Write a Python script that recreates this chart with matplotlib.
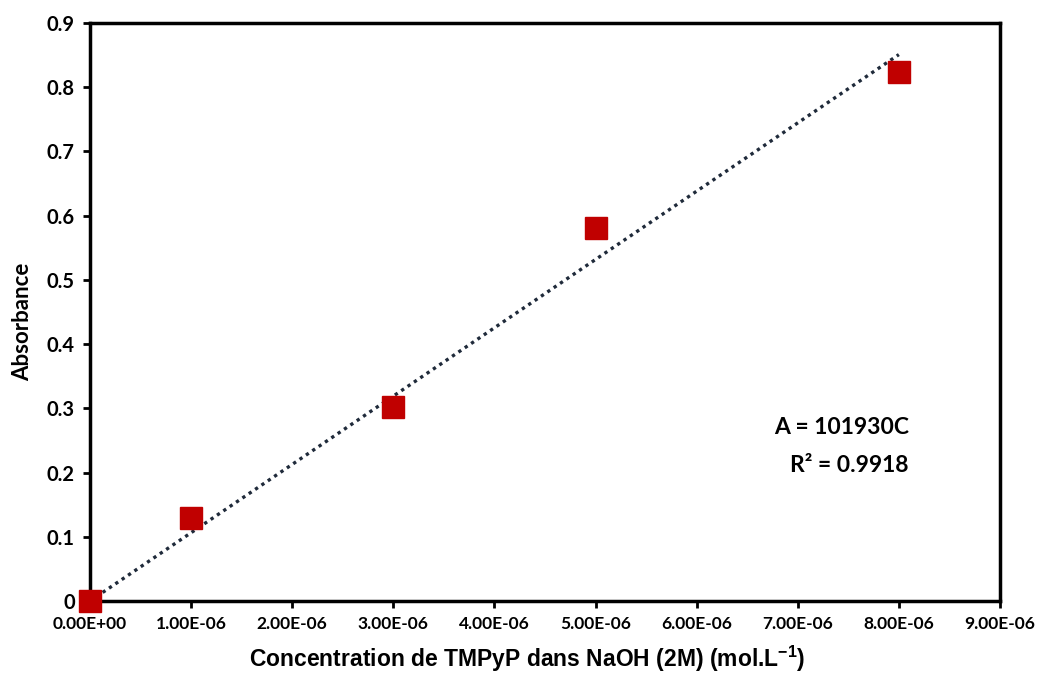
import numpy as np
import matplotlib
matplotlib.use('Agg')
import matplotlib.pyplot as plt
from matplotlib.ticker import FuncFormatter

# Donnees
concentration = [0.0, 1e-6, 3e-6, 5e-6, 8e-6]
absorbance = [0.0, 0.13, 0.302, 0.58, 0.824]
x_ticks = np.arange(0, 9.01e-6, 1e-6)
y_ticks = np.arange(0, 0.91, 0.1)
equation = "A = 101930C"
r2_text = "R² = 0.9918"

plt.rcParams['mathtext.fontset'] = 'custom'
plt.rcParams['mathtext.rm'] = 'Liberation Sans:bold'
plt.rcParams['mathtext.bf'] = 'Liberation Sans:bold'

fig = plt.figure(figsize=(10.4, 6.75), dpi=100)
ax = fig.add_axes([0.0865, 0.1096, 0.875, 0.8564])

# Droite de regression passant par l'origine
x = np.array(concentration)
y = np.array(absorbance)
slope = np.sum(x * y) / np.sum(x * x)
ax.plot([0, x.max()], [0, slope * x.max()], linestyle=(0, (1, 1.3)),
        color='#1f2a3a', linewidth=2.4, zorder=2)

ax.plot(concentration, absorbance, 's', color='#C00000', markersize=15.5,
        markeredgecolor='#C00000', zorder=3, clip_on=False)

ax.set_xlim(0, 9e-6)
ax.set_ylim(0, 0.9)
ax.set_xticks(x_ticks)
ax.set_yticks(y_ticks)
ax.xaxis.set_major_formatter(FuncFormatter(
    lambda v, p: "%.2E" % v if v != 0 else "0.00E+00"))
ax.yaxis.set_major_formatter(FuncFormatter(
    lambda v, p: "0" if abs(v) < 1e-9 else ("%.1f" % v)))

for s in ax.spines.values():
    s.set_linewidth(2.5)
    s.set_color('black')

ax.tick_params(axis='both', direction='out', length=5, width=2, pad=6)
for lab in ax.get_xticklabels():
    lab.set_fontfamily('Lato')
    lab.set_fontweight('bold')
    lab.set_fontsize(12.5)
for lab in ax.get_yticklabels():
    lab.set_fontfamily('Lato')
    lab.set_fontweight('bold')
    lab.set_fontsize(14.5)

ax.set_xlabel("Concentration de TMPyP dans NaOH (2M) (mol.L$^{\\mathbf{-1}}$)",
              fontfamily='Liberation Sans', fontweight='bold', fontsize=16.5)
ax.set_ylabel("Absorbance", fontfamily='Lato', fontweight='bold', fontsize=16)
ax.xaxis.set_label_coords(0.48, -0.074)
ax.yaxis.set_label_coords(-0.062, 0.483)

ax.text(0.9, 0.3, equation, transform=ax.transAxes, ha='right', va='center',
        fontfamily='Lato', fontweight='bold', fontsize=16.5)
ax.text(0.9, 0.234, r2_text, transform=ax.transAxes, ha='right', va='center',
        fontfamily='Lato', fontweight='bold', fontsize=16.5)

fig.savefig('out.png', dpi=100)
